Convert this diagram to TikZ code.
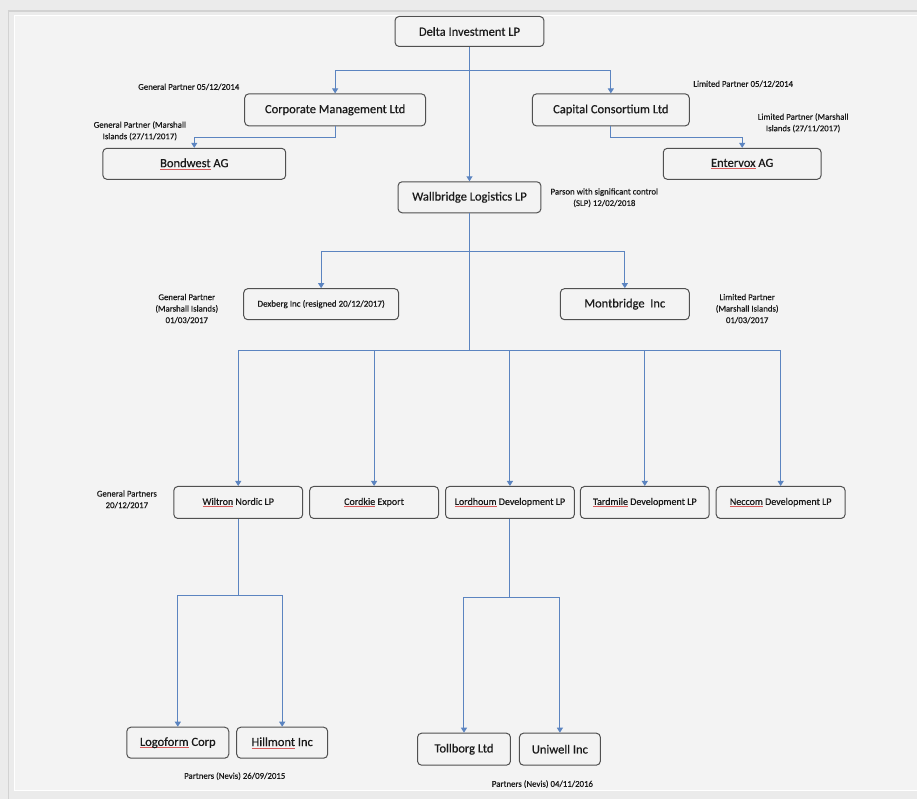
\documentclass[tikz,border=0pt]{standalone}
\usepackage{fontspec}
\setmainfont{Carlito}[FakeBold=0.5]
\usetikzlibrary{arrows.meta}
\definecolor{panel}{HTML}{F3F3F3}
\definecolor{outer}{HTML}{EBEBEB}
\definecolor{edgegray}{HTML}{D2D2D2}
\definecolor{boxline}{HTML}{505050}
\definecolor{conn}{HTML}{5B84C0}
\definecolor{txt}{HTML}{1A1A1A}
\definecolor{spell}{HTML}{D65A5A}
\newcommand\sq[1]{\setbox0\hbox{#1}\rlap{\textcolor{spell}{\rule[-2pt]{\wd0}{0.5pt}}}\box0\relax}
\tikzset{
  ent/.style={draw=boxline, line width=1pt, rounded corners=4pt, fill=panel, text=txt, inner sep=0pt, align=center},
  big/.style={font=\fontsize{12.5}{14}\selectfont},
  mid/.style={font=\fontsize{10}{12}\selectfont},
  sml/.style={font=\fontsize{9}{11}\selectfont},
  lbl/.style={font=\fontsize{8.8}{11.5}\selectfont, text=txt, align=center, inner sep=0pt},
  link/.style={draw=conn, line width=1pt, -{Triangle[width=6pt,length=5pt]}},
}
\begin{document}
\begin{tikzpicture}[x=1pt,y=-1pt]
% frame / background
\fill[outer] (0,0) rectangle (918,800);
\fill[panel] (14,15) rectangle (918,791);
\draw[edgegray, line width=2pt] (8,11) -- (918,11);
\draw[edgegray, line width=1.5pt] (8.5,11) -- (8.5,800);
\draw[white, line width=1.2pt] (14.5,15.5) -- (918,15.5);
\draw[white, line width=1.2pt] (14.5,15.5) -- (14.5,791.5);
\draw[white, line width=1.2pt] (14.5,791.5) -- (918,791.5);
\useasboundingbox (0,0) rectangle (918,800);

% nodes
\node[ent,big,minimum width=149pt,minimum height=30pt] (delta) at (470,31.5) {Delta Investment LP};
\node[ent,big,minimum width=181pt,minimum height=32pt] (corp) at (335.5,110) {Corporate Management Ltd};
\node[ent,big,minimum width=157pt,minimum height=32pt] (cap) at (611.5,110) {Capital Consortium Ltd};
\node[ent,big,minimum width=183pt,minimum height=31pt] (bond) at (194.5,164) {\sq{Bondwest} AG};
\node[ent,big,minimum width=158pt,minimum height=31pt] (entx) at (743,164) {\sq{Entervox} AG};
\node[ent,big,minimum width=143pt,minimum height=31pt] (wall) at (470,197.5) {Wallbridge Logistics LP};
\node[ent,sml,minimum width=155pt,minimum height=31pt] (dex) at (321.5,304.5) {Dexberg Inc (resigned 20/12/2017)};
\node[ent,big,minimum width=129pt,minimum height=31pt] (mont) at (625.5,304.5) {Montbridge\ \ Inc};

\node[ent,mid,minimum width=129pt,minimum height=32pt] (wil) at (238.5,503) {\sq{Wiltron} Nordic LP};
\node[ent,mid,minimum width=129pt,minimum height=32pt] (cord) at (374.5,503) {\sq{Cordkie} Export};
\node[ent,mid,minimum width=129pt,minimum height=32pt] (lord) at (510.5,503) {\sq{Lordhoum} Development LP};
\node[ent,mid,minimum width=129pt,minimum height=32pt] (tard) at (645.5,503) {\sq{Tardmile} Development LP};
\node[ent,mid,minimum width=129pt,minimum height=32pt] (necc) at (781.5,503) {\sq{Neccom} Development LP};

\node[ent,big,minimum width=102pt,minimum height=31pt] (logo) at (178,743.5) {\sq{Logoform} Corp};
\node[ent,big,minimum width=91pt,minimum height=31pt] (hill) at (282.5,743.5) {\sq{Hillmont} Inc};
\node[ent,big,minimum width=93pt,minimum height=32pt] (toll) at (464.5,750) {Tollborg Ltd};
\node[ent,big,minimum width=81pt,minimum height=32pt] (uni) at (560.5,750) {Uniwell Inc};

% labels
\node[lbl] (l1) at (189,87) {General Partner 05/12/2014};
\node[lbl] (l2) at (744,84) {Limited Partner 05/12/2014};
\node[lbl] (l3) at (140,131) {General Partner (Marshall\\Islands (27/11/2017)};
\node[lbl] (l4) at (804,123) {Limited Partner (Marshall\\Islands (27/11/2017)};
\node[lbl] (l5) at (605,198) {Parson with significant control\\(SLP) 12/02/2018};
\node[lbl] (l6) at (187,309) {General Partner\\(Marshall Islands)\\01/03/2017};
\node[lbl] (l7) at (748,309) {Limited Partner\\(Marshall Islands)\\01/03/2017};
\node[lbl] (l8) at (127,500) {General Partners\\20/12/2017};
\node[lbl] (l9) at (235,777) {Partners (Nevis) 26/09/2015};
\node[lbl] (l10) at (543,785) {Partners (Nevis) 04/11/2016};

% connectors
\draw[link] (delta.south) -- (wall.north);
\draw[link] (delta.south) -- ++(0,24) -| (corp.north);
\draw[link] (delta.south) -- ++(0,24) -| (cap.north);
\draw[link] (corp.south) -- ++(0,11) -| (bond.north);
\draw[link] (cap.south) -- ++(0,11) -| (entx.north);
\draw[link] (wall.south) -- ++(0,38) -| (dex.north);
\draw[link] (wall.south) -- ++(0,38) -| (mont.north);
\foreach \t in {wil,cord,lord,tard,necc}
  \draw[link] (wall.south) -- ++(0,137) -| (\t.north);
\draw[link] (wil.south) -- ++(0,77) -| (logo.north);
\draw[link] (wil.south) -- ++(0,77) -| (hill.north);
\draw[link] (lord.south) -- ++(0,79) -| (toll.north);
\draw[link] (lord.south) -- ++(0,79) -| (uni.north);
\end{tikzpicture}
\end{document}
